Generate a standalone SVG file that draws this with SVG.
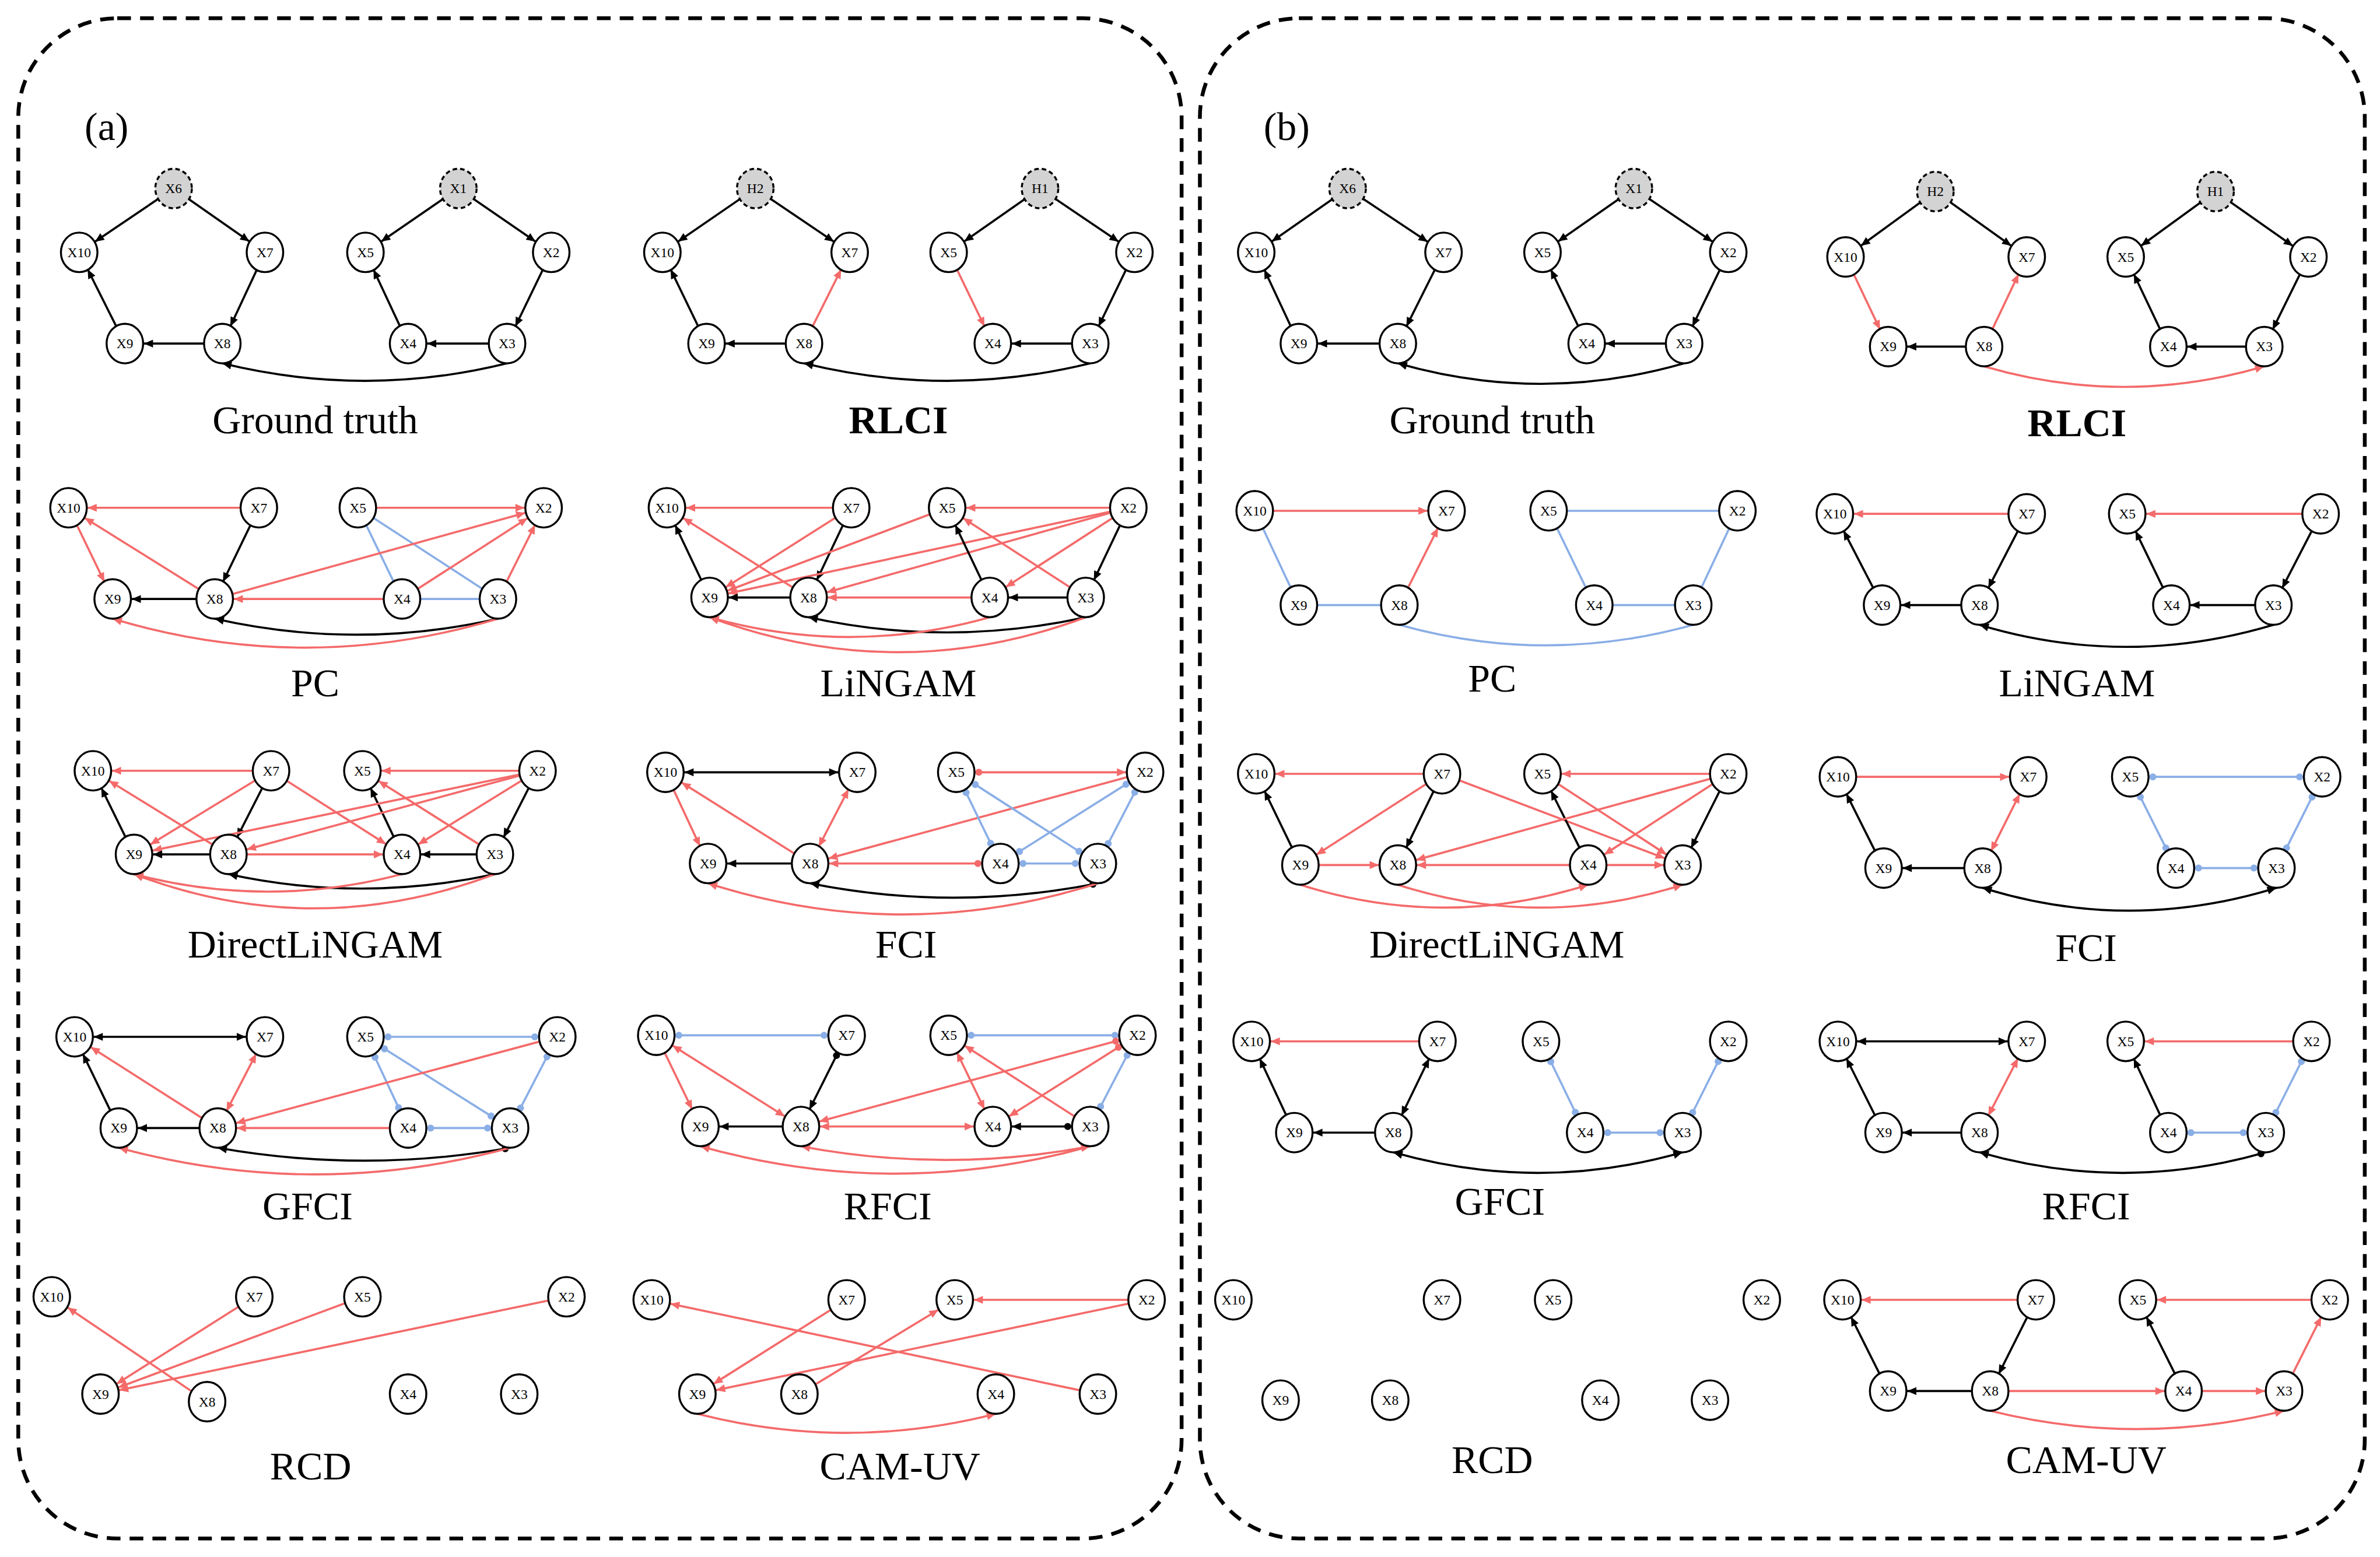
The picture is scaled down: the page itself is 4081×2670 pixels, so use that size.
<svg xmlns="http://www.w3.org/2000/svg" width="4081" height="2670" viewBox="0 0 4081 2670">
<style>
.n ellipse{fill:#fff;stroke:#000;stroke-width:1.3}
.h ellipse{fill:#d3d3d3;stroke:#000;stroke-width:1.3;stroke-dasharray:3 2}
.n text,.h text{font-family:"Liberation Serif",serif;font-size:9px;text-anchor:middle;dominant-baseline:central}
.t{font-family:"Liberation Serif",serif;font-size:26px;text-anchor:middle}
.k{stroke:#000;stroke-width:1.4;fill:none}
.r{stroke:#f46a6a;stroke-width:1.4;fill:none}
.b{stroke:#8aaee6;stroke-width:1.4;fill:none}
.box{fill:none;stroke:#000;stroke-width:2.5;stroke-dasharray:9 6}
</style>
<defs>
<marker id="aK" markerUnits="userSpaceOnUse" refX="12.5" refY="0" orient="auto-start-reverse" overflow="visible"><path d="M0,0 L-6,-2.6 L-6,2.6 Z" fill="#000"/></marker>
<marker id="aR" markerUnits="userSpaceOnUse" refX="12.5" refY="0" orient="auto-start-reverse" overflow="visible"><path d="M0,0 L-6,-2.6 L-6,2.6 Z" fill="#f46a6a"/></marker>
<marker id="zK" markerUnits="userSpaceOnUse" refX="0" refY="0" orient="auto-start-reverse" overflow="visible"><path d="M0,0 L-6,-2.6 L-6,2.6 Z" fill="#000"/></marker>
<marker id="zR" markerUnits="userSpaceOnUse" refX="0" refY="0" orient="auto-start-reverse" overflow="visible"><path d="M0,0 L-6,-2.6 L-6,2.6 Z" fill="#f46a6a"/></marker>
<marker id="cK" markerUnits="userSpaceOnUse" refX="12.5" refY="0" orient="auto" overflow="visible"><circle cx="-2.3" cy="0" r="2.3" fill="#000"/></marker>
<marker id="cR" markerUnits="userSpaceOnUse" refX="12.5" refY="0" orient="auto" overflow="visible"><circle cx="-2.3" cy="0" r="2.3" fill="#f46a6a"/></marker>
<marker id="cB" markerUnits="userSpaceOnUse" refX="12.5" refY="0" orient="auto" overflow="visible"><circle cx="-2.3" cy="0" r="2.3" fill="#8aaee6"/></marker>
<marker id="cBs" markerUnits="userSpaceOnUse" refX="-12.5" refY="0" orient="auto" overflow="visible"><circle cx="2.3" cy="0" r="2.3" fill="#8aaee6"/></marker>
<marker id="cKs" markerUnits="userSpaceOnUse" refX="-12.5" refY="0" orient="auto" overflow="visible"><circle cx="2.3" cy="0" r="2.3" fill="#000"/></marker>
<marker id="cRs" markerUnits="userSpaceOnUse" refX="-12.5" refY="0" orient="auto" overflow="visible"><circle cx="2.3" cy="0" r="2.3" fill="#f46a6a"/></marker>
<marker id="zKs" markerUnits="userSpaceOnUse" refX="-1" refY="0" orient="auto" overflow="visible"><circle cx="2.3" cy="0" r="2.3" fill="#000"/></marker>
</defs>
<g transform="scale(2.611,2.607)">
<rect class="box" x="12" y="12" width="764" height="1000" rx="65"/>
<rect class="box" x="788" y="12" width="765" height="1000" rx="65"/>
<text class="t" x="70" y="92" font-size="28">(a)</text>
<text class="t" x="845" y="92" font-size="28">(b)</text>
<g id="titles">
<text class="t" x="207" y="285">Ground truth</text>
<text class="t" x="590" y="285" font-weight="bold">RLCI</text>
<text class="t" x="207" y="458">PC</text>
<text class="t" x="590" y="458">LiNGAM</text>
<text class="t" x="207" y="630">DirectLiNGAM</text>
<text class="t" x="595" y="630">FCI</text>
<text class="t" x="202" y="802">GFCI</text>
<text class="t" x="583" y="802">RFCI</text>
<text class="t" x="204" y="973">RCD</text>
<text class="t" x="591" y="973">CAM-UV</text>
<text class="t" x="980" y="285">Ground truth</text>
<text class="t" x="1364" y="287" font-weight="bold">RLCI</text>
<text class="t" x="980" y="455">PC</text>
<text class="t" x="1364" y="458">LiNGAM</text>
<text class="t" x="983" y="630">DirectLiNGAM</text>
<text class="t" x="1370" y="632">FCI</text>
<text class="t" x="985" y="799">GFCI</text>
<text class="t" x="1370" y="802">RFCI</text>
<text class="t" x="980" y="969">RCD</text>
<text class="t" x="1370" y="969">CAM-UV</text>
</g>
<g id="connectors">
<!-- a GT -->
<path class="k" d="M114,124 L52,166" marker-end="url(#aK)"/>
<path class="k" d="M114,124 L174,166" marker-end="url(#aK)"/>
<path class="k" d="M174,166 L146,226" marker-end="url(#aK)"/>
<path class="k" d="M146,226 L82,226" marker-end="url(#aK)"/>
<path class="k" d="M82,226 L52,166" marker-end="url(#aK)"/>
<path class="k" d="M301,124 L240,166" marker-end="url(#aK)"/>
<path class="k" d="M301,124 L362,166" marker-end="url(#aK)"/>
<path class="k" d="M362,166 L333,226" marker-end="url(#aK)"/>
<path class="k" d="M333,226 L268,226" marker-end="url(#aK)"/>
<path class="k" d="M268,226 L240,166" marker-end="url(#aK)"/>
<path class="k" d="M333,239 Q240,262 146,239" marker-end="url(#zK)"/>
<!-- a RLCI -->
<path class="k" d="M496,124 L435,166" marker-end="url(#aK)"/>
<path class="k" d="M496,124 L558,166" marker-end="url(#aK)"/>
<path class="r" d="M528,226 L558,166" marker-end="url(#aR)"/>
<path class="k" d="M528,226 L464,226" marker-end="url(#aK)"/>
<path class="k" d="M464,226 L435,166" marker-end="url(#aK)"/>
<path class="k" d="M683,124 L623,166" marker-end="url(#aK)"/>
<path class="k" d="M683,124 L745,166" marker-end="url(#aK)"/>
<path class="k" d="M745,166 L716,226" marker-end="url(#aK)"/>
<path class="k" d="M716,226 L652,226" marker-end="url(#aK)"/>
<path class="r" d="M623,166 L652,226" marker-end="url(#aR)"/>
<path class="k" d="M716,239 Q622,262 528,239" marker-end="url(#zK)"/>
<!-- a PC -->
<path class="r" d="M170,334 L45,334" marker-end="url(#aR)"/>
<path class="r" d="M45,334 L74,394" marker-end="url(#aR)"/>
<path class="r" d="M141,394 L45,334" marker-end="url(#aR)"/>
<path class="k" d="M170,334 L141,394" marker-end="url(#aK)"/>
<path class="k" d="M141,394 L74,394" marker-end="url(#aK)"/>
<path class="r" d="M235,334 L357,334" marker-end="url(#aR)"/>
<path class="b" d="M235,334 L264,394"/>
<path class="b" d="M235,334 L327,394"/>
<path class="r" d="M141,394 L357,334" marker-end="url(#aR)"/>
<path class="r" d="M264,394 L357,334" marker-end="url(#aR)"/>
<path class="r" d="M327,394 L357,334" marker-end="url(#aR)"/>
<path class="r" d="M264,394 L141,394" marker-end="url(#aR)"/>
<path class="b" d="M264,394 L327,394"/>
<path class="k" d="M327,407 Q234,428 141,407" marker-end="url(#zK)"/>
<path class="r" d="M327,407 Q200,445 74,407" marker-end="url(#zR)"/>
<!-- a LiNGAM -->
<path class="r" d="M559,334 L438,334" marker-end="url(#aR)"/>
<path class="k" d="M466,393 L438,334" marker-end="url(#aK)"/>
<path class="r" d="M531,393 L438,334" marker-end="url(#aR)"/>
<path class="k" d="M559,334 L531,393" marker-end="url(#aK)"/>
<path class="r" d="M559,334 L466,393" marker-end="url(#aR)"/>
<path class="r" d="M622,334 L466,393" marker-end="url(#aR)"/>
<path class="r" d="M741,334 L466,393" marker-end="url(#aR)"/>
<path class="r" d="M741,334 L531,393" marker-end="url(#aR)"/>
<path class="r" d="M741,334 L622,334" marker-end="url(#aR)"/>
<path class="k" d="M650,393 L622,334" marker-end="url(#aK)"/>
<path class="r" d="M713,393 L622,334" marker-end="url(#aR)"/>
<path class="r" d="M741,334 L650,393" marker-end="url(#aR)"/>
<path class="k" d="M741,334 L713,393" marker-end="url(#aK)"/>
<path class="k" d="M531,393 L466,393" marker-end="url(#aK)"/>
<path class="r" d="M650,393 L531,393" marker-end="url(#aR)"/>
<path class="k" d="M713,393 L650,393" marker-end="url(#aK)"/>
<path class="k" d="M713,406 Q622,426 531,406" marker-end="url(#zK)"/>
<path class="r" d="M650,406 Q558,432 466,406" marker-end="url(#zR)"/>
<path class="r" d="M713,406 Q590,452 466,406" marker-end="url(#zR)"/>
<!-- a DirectLiNGAM -->
<path class="r" d="M178,507 L61,507" marker-end="url(#aR)"/>
<path class="k" d="M88,562 L61,507" marker-end="url(#aK)"/>
<path class="r" d="M150,562 L61,507" marker-end="url(#aR)"/>
<path class="r" d="M178,507 L88,562" marker-end="url(#aR)"/>
<path class="k" d="M178,507 L150,562" marker-end="url(#aK)"/>
<path class="r" d="M178,507 L264,562" marker-end="url(#aR)"/>
<path class="r" d="M353,507 L238,507" marker-end="url(#aR)"/>
<path class="k" d="M264,562 L238,507" marker-end="url(#aK)"/>
<path class="r" d="M325,562 L238,507" marker-end="url(#aR)"/>
<path class="r" d="M353,507 L88,562" marker-end="url(#aR)"/>
<path class="r" d="M353,507 L150,562" marker-end="url(#aR)"/>
<path class="r" d="M353,507 L264,562" marker-end="url(#aR)"/>
<path class="k" d="M353,507 L325,562" marker-end="url(#aK)"/>
<path class="k" d="M150,562 L88,562" marker-end="url(#aK)"/>
<path class="r" d="M150,562 L264,562" marker-end="url(#aR)"/>
<path class="k" d="M325,562 L264,562" marker-end="url(#aK)"/>
<path class="k" d="M325,575 Q237,594 150,575" marker-end="url(#zK)"/>
<path class="r" d="M264,575 Q176,598 88,575" marker-end="url(#zR)"/>
<path class="r" d="M325,575 Q206,620 88,575" marker-end="url(#zR)"/>
<!-- a FCI -->
<path class="k" d="M437,508 L563,508" marker-start="url(#aK)" marker-end="url(#aK)"/>
<path class="r" d="M532,568 L437,508" marker-end="url(#aR)"/>
<path class="r" d="M437,508 L465,568" marker-end="url(#aR)"/>
<path class="r" d="M532,568 L563,508" marker-start="url(#aR)" marker-end="url(#aR)"/>
<path class="r" d="M628,508 L752,508" marker-start="url(#cRs)" marker-end="url(#aR)"/>
<path class="r" d="M752,508 L532,568" marker-end="url(#aR)"/>
<path class="b" d="M628,508 L657,568" marker-start="url(#cBs)" marker-end="url(#cB)"/>
<path class="b" d="M628,508 L721,568" marker-start="url(#cBs)" marker-end="url(#cB)"/>
<path class="b" d="M752,508 L657,568" marker-start="url(#cBs)" marker-end="url(#cB)"/>
<path class="b" d="M752,508 L721,568" marker-start="url(#cBs)" marker-end="url(#cB)"/>
<path class="b" d="M657,568 L721,568" marker-start="url(#cBs)" marker-end="url(#cB)"/>
<path class="r" d="M657,568 L532,568" marker-start="url(#cRs)" marker-end="url(#aR)"/>
<path class="k" d="M532,568 L465,568" marker-end="url(#aK)"/>
<path class="k" d="M721,581 Q626,600 532,581" marker-start="url(#zKs)" marker-end="url(#zK)"/>
<path class="r" d="M721,581 Q593,622 465,581" marker-end="url(#zR)"/>
<!-- a GFCI -->
<path class="k" d="M49,682 L174,682" marker-start="url(#aK)" marker-end="url(#aK)"/>
<path class="k" d="M78,742 L49,682" marker-end="url(#aK)"/>
<path class="r" d="M143,742 L49,682" marker-end="url(#aR)"/>
<path class="r" d="M143,742 L174,682" marker-start="url(#aR)" marker-end="url(#aR)"/>
<path class="b" d="M240,682 L366,682" marker-start="url(#cBs)" marker-end="url(#cB)"/>
<path class="b" d="M240,682 L268,742" marker-start="url(#cBs)" marker-end="url(#cB)"/>
<path class="b" d="M240,682 L335,742" marker-start="url(#cBs)" marker-end="url(#cB)"/>
<path class="b" d="M366,682 L335,742" marker-start="url(#cBs)" marker-end="url(#cB)"/>
<path class="r" d="M366,682 L143,742" marker-end="url(#aR)"/>
<path class="r" d="M268,742 L143,742" marker-end="url(#aR)"/>
<path class="b" d="M268,742 L335,742" marker-start="url(#cBs)" marker-end="url(#cB)"/>
<path class="k" d="M143,742 L78,742" marker-end="url(#aK)"/>
<path class="k" d="M335,755 Q239,772 143,755" marker-start="url(#zKs)" marker-end="url(#zK)"/>
<path class="r" d="M335,755 Q206,790 78,755" marker-end="url(#zR)"/>
<!-- a RFCI -->
<path class="b" d="M431,681 L556,681" marker-start="url(#cBs)" marker-end="url(#cB)"/>
<path class="r" d="M431,681 L460,741" marker-end="url(#aR)"/>
<path class="r" d="M431,681 L526,741" marker-start="url(#aR)" marker-end="url(#aR)"/>
<path class="k" d="M556,681 L526,741" marker-start="url(#cKs)" marker-end="url(#aK)"/>
<path class="b" d="M623,681 L747,681" marker-start="url(#cBs)" marker-end="url(#cB)"/>
<path class="r" d="M623,681 L652,741" marker-start="url(#aR)" marker-end="url(#aR)"/>
<path class="r" d="M716,741 L623,681" marker-end="url(#aR)"/>
<path class="r" d="M747,681 L526,741" marker-start="url(#cRs)" marker-end="url(#aR)"/>
<path class="r" d="M747,681 L652,741" marker-start="url(#cRs)" marker-end="url(#aR)"/>
<path class="b" d="M747,681 L716,741" marker-start="url(#cBs)" marker-end="url(#cB)"/>
<path class="k" d="M526,741 L460,741" marker-end="url(#aK)"/>
<path class="r" d="M526,741 L652,741" marker-start="url(#aR)" marker-end="url(#aR)"/>
<path class="k" d="M716,741 L652,741" marker-start="url(#cKs)" marker-end="url(#aK)"/>
<path class="r" d="M526,754 Q621,772 716,754" marker-start="url(#zR)" marker-end="url(#zR)"/>
<path class="r" d="M716,754 Q588,790 460,754" marker-end="url(#zR)"/>
<!-- a RCD -->
<path class="r" d="M136,922 L34,853" marker-end="url(#aR)"/>
<path class="r" d="M167,853 L66,917" marker-end="url(#aR)"/>
<path class="r" d="M238,853 L66,917" marker-end="url(#aR)"/>
<path class="r" d="M372,853 L66,917" marker-end="url(#aR)"/>
<!-- a CAM-UV -->
<path class="r" d="M721,917 L428,855" marker-end="url(#aR)"/>
<path class="r" d="M753,855 L627,855" marker-end="url(#aR)"/>
<path class="r" d="M556,855 L458,917" marker-end="url(#aR)"/>
<path class="r" d="M753,855 L458,917" marker-end="url(#aR)"/>
<path class="r" d="M525,917 L627,855" marker-end="url(#aR)"/>
<path class="r" d="M458,930 Q556,955 654,930" marker-end="url(#zR)"/>
<!-- b GT -->
<path class="k" d="M885,124 L825,166" marker-end="url(#aK)"/>
<path class="k" d="M885,124 L948,166" marker-end="url(#aK)"/>
<path class="k" d="M948,166 L918,226" marker-end="url(#aK)"/>
<path class="k" d="M918,226 L853,226" marker-end="url(#aK)"/>
<path class="k" d="M853,226 L825,166" marker-end="url(#aK)"/>
<path class="k" d="M1073,124 L1013,166" marker-end="url(#aK)"/>
<path class="k" d="M1073,124 L1135,166" marker-end="url(#aK)"/>
<path class="k" d="M1135,166 L1106,226" marker-end="url(#aK)"/>
<path class="k" d="M1106,226 L1042,226" marker-end="url(#aK)"/>
<path class="k" d="M1042,226 L1013,166" marker-end="url(#aK)"/>
<path class="k" d="M1106,239 Q1012,266 918,239" marker-end="url(#zK)"/>
<!-- b RLCI -->
<path class="k" d="M1271,126 L1212,169" marker-end="url(#aK)"/>
<path class="k" d="M1271,126 L1331,169" marker-end="url(#aK)"/>
<path class="r" d="M1212,169 L1240,228" marker-end="url(#aR)"/>
<path class="r" d="M1303,228 L1331,169" marker-end="url(#aR)"/>
<path class="k" d="M1303,228 L1240,228" marker-end="url(#aK)"/>
<path class="k" d="M1455,126 L1396,169" marker-end="url(#aK)"/>
<path class="k" d="M1455,126 L1516,169" marker-end="url(#aK)"/>
<path class="k" d="M1516,169 L1487,228" marker-end="url(#aK)"/>
<path class="k" d="M1487,228 L1424,228" marker-end="url(#aK)"/>
<path class="k" d="M1424,228 L1396,169" marker-end="url(#aK)"/>
<path class="r" d="M1303,241 Q1395,268 1487,241" marker-end="url(#zR)"/>
<!-- b PC -->
<path class="r" d="M824,336 L950,336" marker-end="url(#aR)"/>
<path class="b" d="M824,336 L853,398"/>
<path class="r" d="M919,398 L950,336" marker-end="url(#aR)"/>
<path class="b" d="M853,398 L919,398"/>
<path class="b" d="M1017,336 L1141,336"/>
<path class="b" d="M1017,336 L1047,398"/>
<path class="b" d="M1141,336 L1112,398"/>
<path class="b" d="M1047,398 L1112,398"/>
<path class="b" d="M919,411 Q1015,438 1112,411"/>
<!-- b LiNGAM -->
<path class="r" d="M1331,338 L1205,338" marker-end="url(#aR)"/>
<path class="k" d="M1236,398 L1205,338" marker-end="url(#aK)"/>
<path class="k" d="M1331,338 L1300,398" marker-end="url(#aK)"/>
<path class="k" d="M1300,398 L1236,398" marker-end="url(#aK)"/>
<path class="r" d="M1524,338 L1397,338" marker-end="url(#aR)"/>
<path class="k" d="M1426,398 L1397,338" marker-end="url(#aK)"/>
<path class="k" d="M1524,338 L1493,398" marker-end="url(#aK)"/>
<path class="k" d="M1493,398 L1426,398" marker-end="url(#aK)"/>
<path class="k" d="M1493,411 Q1396,440 1300,411" marker-end="url(#zK)"/>
<!-- b DirectLiNGAM -->
<path class="r" d="M947,509 L825,509" marker-end="url(#aR)"/>
<path class="k" d="M854,569 L825,509" marker-end="url(#aK)"/>
<path class="r" d="M947,509 L854,569" marker-end="url(#aR)"/>
<path class="k" d="M947,509 L918,569" marker-end="url(#aK)"/>
<path class="r" d="M947,509 L1105,569" marker-end="url(#aR)"/>
<path class="r" d="M1135,509 L1013,509" marker-end="url(#aR)"/>
<path class="k" d="M1043,569 L1013,509" marker-end="url(#aK)"/>
<path class="r" d="M1013,509 L1105,569" marker-end="url(#aR)"/>
<path class="r" d="M1135,509 L918,569" marker-end="url(#aR)"/>
<path class="r" d="M1135,509 L1043,569" marker-end="url(#aR)"/>
<path class="k" d="M1135,509 L1105,569" marker-end="url(#aK)"/>
<path class="r" d="M854,569 L918,569" marker-end="url(#aR)"/>
<path class="r" d="M1043,569 L918,569" marker-end="url(#aR)"/>
<path class="r" d="M1043,569 L1105,569" marker-end="url(#aR)"/>
<path class="r" d="M854,582 Q948,612 1043,582" marker-end="url(#zR)"/>
<path class="r" d="M918,582 Q1011,612 1105,582" marker-end="url(#zR)"/>
<!-- b FCI -->
<path class="r" d="M1207,511 L1332,511" marker-end="url(#aR)"/>
<path class="k" d="M1237,571 L1207,511" marker-end="url(#aK)"/>
<path class="r" d="M1302,571 L1332,511" marker-start="url(#aR)" marker-end="url(#aR)"/>
<path class="k" d="M1302,571 L1237,571" marker-end="url(#aK)"/>
<path class="b" d="M1399,511 L1525,511" marker-start="url(#cBs)" marker-end="url(#cB)"/>
<path class="b" d="M1399,511 L1429,571" marker-start="url(#cBs)" marker-end="url(#cB)"/>
<path class="b" d="M1525,511 L1495,571" marker-start="url(#cBs)" marker-end="url(#cB)"/>
<path class="b" d="M1429,571 L1495,571" marker-start="url(#cBs)" marker-end="url(#cB)"/>
<path class="k" d="M1302,584 Q1398,614 1495,584" marker-start="url(#zK)" marker-end="url(#zK)"/>
<!-- b GFCI -->
<path class="r" d="M944,685 L822,685" marker-end="url(#aR)"/>
<path class="k" d="M850,745 L822,685" marker-end="url(#aK)"/>
<path class="k" d="M915,745 L944,685" marker-start="url(#aK)" marker-end="url(#aK)"/>
<path class="k" d="M915,745 L850,745" marker-end="url(#aK)"/>
<path class="b" d="M1012,685 L1041,745" marker-start="url(#cBs)" marker-end="url(#cB)"/>
<path class="b" d="M1135,685 L1105,745" marker-start="url(#cBs)" marker-end="url(#cB)"/>
<path class="b" d="M1041,745 L1105,745" marker-start="url(#cBs)" marker-end="url(#cB)"/>
<path class="k" d="M915,758 Q1010,785 1105,758" marker-start="url(#zK)" marker-end="url(#zK)"/>
<!-- b RFCI -->
<path class="k" d="M1207,685 L1331,685" marker-start="url(#aK)" marker-end="url(#aK)"/>
<path class="k" d="M1237,745 L1207,685" marker-end="url(#aK)"/>
<path class="r" d="M1300,745 L1331,685" marker-start="url(#aR)" marker-end="url(#aR)"/>
<path class="k" d="M1300,745 L1237,745" marker-end="url(#aK)"/>
<path class="r" d="M1518,685 L1396,685" marker-end="url(#aR)"/>
<path class="k" d="M1424,745 L1396,685" marker-end="url(#aK)"/>
<path class="b" d="M1518,685 L1488,745" marker-start="url(#cBs)" marker-end="url(#cB)"/>
<path class="b" d="M1424,745 L1488,745" marker-start="url(#cBs)" marker-end="url(#cB)"/>
<path class="k" d="M1488,758 Q1394,785 1300,758" marker-start="url(#zKs)" marker-end="url(#zK)"/>
<!-- b CAM-UV -->
<path class="r" d="M1337,855 L1210,855" marker-end="url(#aR)"/>
<path class="k" d="M1240,915 L1210,855" marker-end="url(#aK)"/>
<path class="k" d="M1337,855 L1307,915" marker-end="url(#aK)"/>
<path class="k" d="M1307,915 L1240,915" marker-end="url(#aK)"/>
<path class="r" d="M1530,855 L1404,855" marker-end="url(#aR)"/>
<path class="k" d="M1434,915 L1404,855" marker-end="url(#aK)"/>
<path class="r" d="M1500,915 L1530,855" marker-end="url(#aR)"/>
<path class="r" d="M1307,915 L1434,915" marker-end="url(#aR)"/>
<path class="r" d="M1434,915 L1500,915" marker-end="url(#aR)"/>
<path class="r" d="M1307,928 Q1403,952 1500,928" marker-end="url(#zR)"/>
</g>
<!-- nodes (a) GT -->
<g id="aGT-X6" class="h"><ellipse cx="114" cy="124" rx="12" ry="13"/><text x="114" y="124">X6</text></g>
<g id="aGT-X10" class="n"><ellipse cx="52" cy="166" rx="12" ry="13"/><text x="52" y="166">X10</text></g>
<g id="aGT-X7" class="n"><ellipse cx="174" cy="166" rx="12" ry="13"/><text x="174" y="166">X7</text></g>
<g id="aGT-X9" class="n"><ellipse cx="82" cy="226" rx="12" ry="13"/><text x="82" y="226">X9</text></g>
<g id="aGT-X8" class="n"><ellipse cx="146" cy="226" rx="12" ry="13"/><text x="146" y="226">X8</text></g>
<g id="aGT-X1" class="h"><ellipse cx="301" cy="124" rx="12" ry="13"/><text x="301" y="124">X1</text></g>
<g id="aGT-X5" class="n"><ellipse cx="240" cy="166" rx="12" ry="13"/><text x="240" y="166">X5</text></g>
<g id="aGT-X2" class="n"><ellipse cx="362" cy="166" rx="12" ry="13"/><text x="362" y="166">X2</text></g>
<g id="aGT-X4" class="n"><ellipse cx="268" cy="226" rx="12" ry="13"/><text x="268" y="226">X4</text></g>
<g id="aGT-X3" class="n"><ellipse cx="333" cy="226" rx="12" ry="13"/><text x="333" y="226">X3</text></g>
<!-- a RLCI -->
<g id="aRL-H2" class="h"><ellipse cx="496" cy="124" rx="12" ry="13"/><text x="496" y="124">H2</text></g>
<g id="aRL-X10" class="n"><ellipse cx="435" cy="166" rx="12" ry="13"/><text x="435" y="166">X10</text></g>
<g id="aRL-X7" class="n"><ellipse cx="558" cy="166" rx="12" ry="13"/><text x="558" y="166">X7</text></g>
<g id="aRL-X9" class="n"><ellipse cx="464" cy="226" rx="12" ry="13"/><text x="464" y="226">X9</text></g>
<g id="aRL-X8" class="n"><ellipse cx="528" cy="226" rx="12" ry="13"/><text x="528" y="226">X8</text></g>
<g id="aRL-H1" class="h"><ellipse cx="683" cy="124" rx="12" ry="13"/><text x="683" y="124">H1</text></g>
<g id="aRL-X5" class="n"><ellipse cx="623" cy="166" rx="12" ry="13"/><text x="623" y="166">X5</text></g>
<g id="aRL-X2" class="n"><ellipse cx="745" cy="166" rx="12" ry="13"/><text x="745" y="166">X2</text></g>
<g id="aRL-X4" class="n"><ellipse cx="652" cy="226" rx="12" ry="13"/><text x="652" y="226">X4</text></g>
<g id="aRL-X3" class="n"><ellipse cx="716" cy="226" rx="12" ry="13"/><text x="716" y="226">X3</text></g>
<!-- a PC -->
<g id="aPC-X10" class="n"><ellipse cx="45" cy="334" rx="12" ry="13"/><text x="45" y="334">X10</text></g>
<g id="aPC-X7" class="n"><ellipse cx="170" cy="334" rx="12" ry="13"/><text x="170" y="334">X7</text></g>
<g id="aPC-X5" class="n"><ellipse cx="235" cy="334" rx="12" ry="13"/><text x="235" y="334">X5</text></g>
<g id="aPC-X2" class="n"><ellipse cx="357" cy="334" rx="12" ry="13"/><text x="357" y="334">X2</text></g>
<g id="aPC-X9" class="n"><ellipse cx="74" cy="394" rx="12" ry="13"/><text x="74" y="394">X9</text></g>
<g id="aPC-X8" class="n"><ellipse cx="141" cy="394" rx="12" ry="13"/><text x="141" y="394">X8</text></g>
<g id="aPC-X4" class="n"><ellipse cx="264" cy="394" rx="12" ry="13"/><text x="264" y="394">X4</text></g>
<g id="aPC-X3" class="n"><ellipse cx="327" cy="394" rx="12" ry="13"/><text x="327" y="394">X3</text></g>
<!-- a LiNGAM -->
<g id="aLi-X10" class="n"><ellipse cx="438" cy="334" rx="12" ry="13"/><text x="438" y="334">X10</text></g>
<g id="aLi-X7" class="n"><ellipse cx="559" cy="334" rx="12" ry="13"/><text x="559" y="334">X7</text></g>
<g id="aLi-X5" class="n"><ellipse cx="622" cy="334" rx="12" ry="13"/><text x="622" y="334">X5</text></g>
<g id="aLi-X2" class="n"><ellipse cx="741" cy="334" rx="12" ry="13"/><text x="741" y="334">X2</text></g>
<g id="aLi-X9" class="n"><ellipse cx="466" cy="393" rx="12" ry="13"/><text x="466" y="393">X9</text></g>
<g id="aLi-X8" class="n"><ellipse cx="531" cy="393" rx="12" ry="13"/><text x="531" y="393">X8</text></g>
<g id="aLi-X4" class="n"><ellipse cx="650" cy="393" rx="12" ry="13"/><text x="650" y="393">X4</text></g>
<g id="aLi-X3" class="n"><ellipse cx="713" cy="393" rx="12" ry="13"/><text x="713" y="393">X3</text></g>
<!-- a DirectLiNGAM -->
<g id="aDL-X10" class="n"><ellipse cx="61" cy="507" rx="12" ry="13"/><text x="61" y="507">X10</text></g>
<g id="aDL-X7" class="n"><ellipse cx="178" cy="507" rx="12" ry="13"/><text x="178" y="507">X7</text></g>
<g id="aDL-X5" class="n"><ellipse cx="238" cy="507" rx="12" ry="13"/><text x="238" y="507">X5</text></g>
<g id="aDL-X2" class="n"><ellipse cx="353" cy="507" rx="12" ry="13"/><text x="353" y="507">X2</text></g>
<g id="aDL-X9" class="n"><ellipse cx="88" cy="562" rx="12" ry="13"/><text x="88" y="562">X9</text></g>
<g id="aDL-X8" class="n"><ellipse cx="150" cy="562" rx="12" ry="13"/><text x="150" y="562">X8</text></g>
<g id="aDL-X4" class="n"><ellipse cx="264" cy="562" rx="12" ry="13"/><text x="264" y="562">X4</text></g>
<g id="aDL-X3" class="n"><ellipse cx="325" cy="562" rx="12" ry="13"/><text x="325" y="562">X3</text></g>
<!-- a FCI -->
<g id="aFC-X10" class="n"><ellipse cx="437" cy="508" rx="12" ry="13"/><text x="437" y="508">X10</text></g>
<g id="aFC-X7" class="n"><ellipse cx="563" cy="508" rx="12" ry="13"/><text x="563" y="508">X7</text></g>
<g id="aFC-X5" class="n"><ellipse cx="628" cy="508" rx="12" ry="13"/><text x="628" y="508">X5</text></g>
<g id="aFC-X2" class="n"><ellipse cx="752" cy="508" rx="12" ry="13"/><text x="752" y="508">X2</text></g>
<g id="aFC-X9" class="n"><ellipse cx="465" cy="568" rx="12" ry="13"/><text x="465" y="568">X9</text></g>
<g id="aFC-X8" class="n"><ellipse cx="532" cy="568" rx="12" ry="13"/><text x="532" y="568">X8</text></g>
<g id="aFC-X4" class="n"><ellipse cx="657" cy="568" rx="12" ry="13"/><text x="657" y="568">X4</text></g>
<g id="aFC-X3" class="n"><ellipse cx="721" cy="568" rx="12" ry="13"/><text x="721" y="568">X3</text></g>
<!-- a GFCI -->
<g id="aGF-X10" class="n"><ellipse cx="49" cy="682" rx="12" ry="13"/><text x="49" y="682">X10</text></g>
<g id="aGF-X7" class="n"><ellipse cx="174" cy="682" rx="12" ry="13"/><text x="174" y="682">X7</text></g>
<g id="aGF-X5" class="n"><ellipse cx="240" cy="682" rx="12" ry="13"/><text x="240" y="682">X5</text></g>
<g id="aGF-X2" class="n"><ellipse cx="366" cy="682" rx="12" ry="13"/><text x="366" y="682">X2</text></g>
<g id="aGF-X9" class="n"><ellipse cx="78" cy="742" rx="12" ry="13"/><text x="78" y="742">X9</text></g>
<g id="aGF-X8" class="n"><ellipse cx="143" cy="742" rx="12" ry="13"/><text x="143" y="742">X8</text></g>
<g id="aGF-X4" class="n"><ellipse cx="268" cy="742" rx="12" ry="13"/><text x="268" y="742">X4</text></g>
<g id="aGF-X3" class="n"><ellipse cx="335" cy="742" rx="12" ry="13"/><text x="335" y="742">X3</text></g>
<!-- a RFCI -->
<g id="aRF-X10" class="n"><ellipse cx="431" cy="681" rx="12" ry="13"/><text x="431" y="681">X10</text></g>
<g id="aRF-X7" class="n"><ellipse cx="556" cy="681" rx="12" ry="13"/><text x="556" y="681">X7</text></g>
<g id="aRF-X5" class="n"><ellipse cx="623" cy="681" rx="12" ry="13"/><text x="623" y="681">X5</text></g>
<g id="aRF-X2" class="n"><ellipse cx="747" cy="681" rx="12" ry="13"/><text x="747" y="681">X2</text></g>
<g id="aRF-X9" class="n"><ellipse cx="460" cy="741" rx="12" ry="13"/><text x="460" y="741">X9</text></g>
<g id="aRF-X8" class="n"><ellipse cx="526" cy="741" rx="12" ry="13"/><text x="526" y="741">X8</text></g>
<g id="aRF-X4" class="n"><ellipse cx="652" cy="741" rx="12" ry="13"/><text x="652" y="741">X4</text></g>
<g id="aRF-X3" class="n"><ellipse cx="716" cy="741" rx="12" ry="13"/><text x="716" y="741">X3</text></g>
<!-- a RCD -->
<g id="aRC-X10" class="n"><ellipse cx="34" cy="853" rx="12" ry="13"/><text x="34" y="853">X10</text></g>
<g id="aRC-X7" class="n"><ellipse cx="167" cy="853" rx="12" ry="13"/><text x="167" y="853">X7</text></g>
<g id="aRC-X5" class="n"><ellipse cx="238" cy="853" rx="12" ry="13"/><text x="238" y="853">X5</text></g>
<g id="aRC-X2" class="n"><ellipse cx="372" cy="853" rx="12" ry="13"/><text x="372" y="853">X2</text></g>
<g id="aRC-X9" class="n"><ellipse cx="66" cy="917" rx="12" ry="13"/><text x="66" y="917">X9</text></g>
<g id="aRC-X8" class="n"><ellipse cx="136" cy="922" rx="12" ry="13"/><text x="136" y="922">X8</text></g>
<g id="aRC-X4" class="n"><ellipse cx="268" cy="917" rx="12" ry="13"/><text x="268" y="917">X4</text></g>
<g id="aRC-X3" class="n"><ellipse cx="341" cy="917" rx="12" ry="13"/><text x="341" y="917">X3</text></g>
<!-- a CAM-UV -->
<g id="aCU-X10" class="n"><ellipse cx="428" cy="855" rx="12" ry="13"/><text x="428" y="855">X10</text></g>
<g id="aCU-X7" class="n"><ellipse cx="556" cy="855" rx="12" ry="13"/><text x="556" y="855">X7</text></g>
<g id="aCU-X5" class="n"><ellipse cx="627" cy="855" rx="12" ry="13"/><text x="627" y="855">X5</text></g>
<g id="aCU-X2" class="n"><ellipse cx="753" cy="855" rx="12" ry="13"/><text x="753" y="855">X2</text></g>
<g id="aCU-X9" class="n"><ellipse cx="458" cy="917" rx="12" ry="13"/><text x="458" y="917">X9</text></g>
<g id="aCU-X8" class="n"><ellipse cx="525" cy="917" rx="12" ry="13"/><text x="525" y="917">X8</text></g>
<g id="aCU-X4" class="n"><ellipse cx="654" cy="917" rx="12" ry="13"/><text x="654" y="917">X4</text></g>
<g id="aCU-X3" class="n"><ellipse cx="721" cy="917" rx="12" ry="13"/><text x="721" y="917">X3</text></g>
<!-- b GT -->
<g id="bGT-X6" class="h"><ellipse cx="885" cy="124" rx="12" ry="13"/><text x="885" y="124">X6</text></g>
<g id="bGT-X10" class="n"><ellipse cx="825" cy="166" rx="12" ry="13"/><text x="825" y="166">X10</text></g>
<g id="bGT-X7" class="n"><ellipse cx="948" cy="166" rx="12" ry="13"/><text x="948" y="166">X7</text></g>
<g id="bGT-X9" class="n"><ellipse cx="853" cy="226" rx="12" ry="13"/><text x="853" y="226">X9</text></g>
<g id="bGT-X8" class="n"><ellipse cx="918" cy="226" rx="12" ry="13"/><text x="918" y="226">X8</text></g>
<g id="bGT-X1" class="h"><ellipse cx="1073" cy="124" rx="12" ry="13"/><text x="1073" y="124">X1</text></g>
<g id="bGT-X5" class="n"><ellipse cx="1013" cy="166" rx="12" ry="13"/><text x="1013" y="166">X5</text></g>
<g id="bGT-X2" class="n"><ellipse cx="1135" cy="166" rx="12" ry="13"/><text x="1135" y="166">X2</text></g>
<g id="bGT-X4" class="n"><ellipse cx="1042" cy="226" rx="12" ry="13"/><text x="1042" y="226">X4</text></g>
<g id="bGT-X3" class="n"><ellipse cx="1106" cy="226" rx="12" ry="13"/><text x="1106" y="226">X3</text></g>
<!-- b RLCI -->
<g id="bRL-H2" class="h"><ellipse cx="1271" cy="126" rx="12" ry="13"/><text x="1271" y="126">H2</text></g>
<g id="bRL-X10" class="n"><ellipse cx="1212" cy="169" rx="12" ry="13"/><text x="1212" y="169">X10</text></g>
<g id="bRL-X7" class="n"><ellipse cx="1331" cy="169" rx="12" ry="13"/><text x="1331" y="169">X7</text></g>
<g id="bRL-X9" class="n"><ellipse cx="1240" cy="228" rx="12" ry="13"/><text x="1240" y="228">X9</text></g>
<g id="bRL-X8" class="n"><ellipse cx="1303" cy="228" rx="12" ry="13"/><text x="1303" y="228">X8</text></g>
<g id="bRL-H1" class="h"><ellipse cx="1455" cy="126" rx="12" ry="13"/><text x="1455" y="126">H1</text></g>
<g id="bRL-X5" class="n"><ellipse cx="1396" cy="169" rx="12" ry="13"/><text x="1396" y="169">X5</text></g>
<g id="bRL-X2" class="n"><ellipse cx="1516" cy="169" rx="12" ry="13"/><text x="1516" y="169">X2</text></g>
<g id="bRL-X4" class="n"><ellipse cx="1424" cy="228" rx="12" ry="13"/><text x="1424" y="228">X4</text></g>
<g id="bRL-X3" class="n"><ellipse cx="1487" cy="228" rx="12" ry="13"/><text x="1487" y="228">X3</text></g>
<!-- b PC -->
<g id="bPC-X10" class="n"><ellipse cx="824" cy="336" rx="12" ry="13"/><text x="824" y="336">X10</text></g>
<g id="bPC-X7" class="n"><ellipse cx="950" cy="336" rx="12" ry="13"/><text x="950" y="336">X7</text></g>
<g id="bPC-X5" class="n"><ellipse cx="1017" cy="336" rx="12" ry="13"/><text x="1017" y="336">X5</text></g>
<g id="bPC-X2" class="n"><ellipse cx="1141" cy="336" rx="12" ry="13"/><text x="1141" y="336">X2</text></g>
<g id="bPC-X9" class="n"><ellipse cx="853" cy="398" rx="12" ry="13"/><text x="853" y="398">X9</text></g>
<g id="bPC-X8" class="n"><ellipse cx="919" cy="398" rx="12" ry="13"/><text x="919" y="398">X8</text></g>
<g id="bPC-X4" class="n"><ellipse cx="1047" cy="398" rx="12" ry="13"/><text x="1047" y="398">X4</text></g>
<g id="bPC-X3" class="n"><ellipse cx="1112" cy="398" rx="12" ry="13"/><text x="1112" y="398">X3</text></g>
<!-- b LiNGAM -->
<g id="bLi-X10" class="n"><ellipse cx="1205" cy="338" rx="12" ry="13"/><text x="1205" y="338">X10</text></g>
<g id="bLi-X7" class="n"><ellipse cx="1331" cy="338" rx="12" ry="13"/><text x="1331" y="338">X7</text></g>
<g id="bLi-X5" class="n"><ellipse cx="1397" cy="338" rx="12" ry="13"/><text x="1397" y="338">X5</text></g>
<g id="bLi-X2" class="n"><ellipse cx="1524" cy="338" rx="12" ry="13"/><text x="1524" y="338">X2</text></g>
<g id="bLi-X9" class="n"><ellipse cx="1236" cy="398" rx="12" ry="13"/><text x="1236" y="398">X9</text></g>
<g id="bLi-X8" class="n"><ellipse cx="1300" cy="398" rx="12" ry="13"/><text x="1300" y="398">X8</text></g>
<g id="bLi-X4" class="n"><ellipse cx="1426" cy="398" rx="12" ry="13"/><text x="1426" y="398">X4</text></g>
<g id="bLi-X3" class="n"><ellipse cx="1493" cy="398" rx="12" ry="13"/><text x="1493" y="398">X3</text></g>
<!-- b DirectLiNGAM -->
<g id="bDL-X10" class="n"><ellipse cx="825" cy="509" rx="12" ry="13"/><text x="825" y="509">X10</text></g>
<g id="bDL-X7" class="n"><ellipse cx="947" cy="509" rx="12" ry="13"/><text x="947" y="509">X7</text></g>
<g id="bDL-X5" class="n"><ellipse cx="1013" cy="509" rx="12" ry="13"/><text x="1013" y="509">X5</text></g>
<g id="bDL-X2" class="n"><ellipse cx="1135" cy="509" rx="12" ry="13"/><text x="1135" y="509">X2</text></g>
<g id="bDL-X9" class="n"><ellipse cx="854" cy="569" rx="12" ry="13"/><text x="854" y="569">X9</text></g>
<g id="bDL-X8" class="n"><ellipse cx="918" cy="569" rx="12" ry="13"/><text x="918" y="569">X8</text></g>
<g id="bDL-X4" class="n"><ellipse cx="1043" cy="569" rx="12" ry="13"/><text x="1043" y="569">X4</text></g>
<g id="bDL-X3" class="n"><ellipse cx="1105" cy="569" rx="12" ry="13"/><text x="1105" y="569">X3</text></g>
<!-- b FCI -->
<g id="bFC-X10" class="n"><ellipse cx="1207" cy="511" rx="12" ry="13"/><text x="1207" y="511">X10</text></g>
<g id="bFC-X7" class="n"><ellipse cx="1332" cy="511" rx="12" ry="13"/><text x="1332" y="511">X7</text></g>
<g id="bFC-X5" class="n"><ellipse cx="1399" cy="511" rx="12" ry="13"/><text x="1399" y="511">X5</text></g>
<g id="bFC-X2" class="n"><ellipse cx="1525" cy="511" rx="12" ry="13"/><text x="1525" y="511">X2</text></g>
<g id="bFC-X9" class="n"><ellipse cx="1237" cy="571" rx="12" ry="13"/><text x="1237" y="571">X9</text></g>
<g id="bFC-X8" class="n"><ellipse cx="1302" cy="571" rx="12" ry="13"/><text x="1302" y="571">X8</text></g>
<g id="bFC-X4" class="n"><ellipse cx="1429" cy="571" rx="12" ry="13"/><text x="1429" y="571">X4</text></g>
<g id="bFC-X3" class="n"><ellipse cx="1495" cy="571" rx="12" ry="13"/><text x="1495" y="571">X3</text></g>
<!-- b GFCI -->
<g id="bGF-X10" class="n"><ellipse cx="822" cy="685" rx="12" ry="13"/><text x="822" y="685">X10</text></g>
<g id="bGF-X7" class="n"><ellipse cx="944" cy="685" rx="12" ry="13"/><text x="944" y="685">X7</text></g>
<g id="bGF-X5" class="n"><ellipse cx="1012" cy="685" rx="12" ry="13"/><text x="1012" y="685">X5</text></g>
<g id="bGF-X2" class="n"><ellipse cx="1135" cy="685" rx="12" ry="13"/><text x="1135" y="685">X2</text></g>
<g id="bGF-X9" class="n"><ellipse cx="850" cy="745" rx="12" ry="13"/><text x="850" y="745">X9</text></g>
<g id="bGF-X8" class="n"><ellipse cx="915" cy="745" rx="12" ry="13"/><text x="915" y="745">X8</text></g>
<g id="bGF-X4" class="n"><ellipse cx="1041" cy="745" rx="12" ry="13"/><text x="1041" y="745">X4</text></g>
<g id="bGF-X3" class="n"><ellipse cx="1105" cy="745" rx="12" ry="13"/><text x="1105" y="745">X3</text></g>
<!-- b RFCI -->
<g id="bRF-X10" class="n"><ellipse cx="1207" cy="685" rx="12" ry="13"/><text x="1207" y="685">X10</text></g>
<g id="bRF-X7" class="n"><ellipse cx="1331" cy="685" rx="12" ry="13"/><text x="1331" y="685">X7</text></g>
<g id="bRF-X5" class="n"><ellipse cx="1396" cy="685" rx="12" ry="13"/><text x="1396" y="685">X5</text></g>
<g id="bRF-X2" class="n"><ellipse cx="1518" cy="685" rx="12" ry="13"/><text x="1518" y="685">X2</text></g>
<g id="bRF-X9" class="n"><ellipse cx="1237" cy="745" rx="12" ry="13"/><text x="1237" y="745">X9</text></g>
<g id="bRF-X8" class="n"><ellipse cx="1300" cy="745" rx="12" ry="13"/><text x="1300" y="745">X8</text></g>
<g id="bRF-X4" class="n"><ellipse cx="1424" cy="745" rx="12" ry="13"/><text x="1424" y="745">X4</text></g>
<g id="bRF-X3" class="n"><ellipse cx="1488" cy="745" rx="12" ry="13"/><text x="1488" y="745">X3</text></g>
<!-- b RCD -->
<g id="bRC-X10" class="n"><ellipse cx="810" cy="855" rx="12" ry="13"/><text x="810" y="855">X10</text></g>
<g id="bRC-X7" class="n"><ellipse cx="947" cy="855" rx="12" ry="13"/><text x="947" y="855">X7</text></g>
<g id="bRC-X5" class="n"><ellipse cx="1020" cy="855" rx="12" ry="13"/><text x="1020" y="855">X5</text></g>
<g id="bRC-X2" class="n"><ellipse cx="1157" cy="855" rx="12" ry="13"/><text x="1157" y="855">X2</text></g>
<g id="bRC-X9" class="n"><ellipse cx="841" cy="921" rx="12" ry="13"/><text x="841" y="921">X9</text></g>
<g id="bRC-X8" class="n"><ellipse cx="913" cy="921" rx="12" ry="13"/><text x="913" y="921">X8</text></g>
<g id="bRC-X4" class="n"><ellipse cx="1051" cy="921" rx="12" ry="13"/><text x="1051" y="921">X4</text></g>
<g id="bRC-X3" class="n"><ellipse cx="1123" cy="921" rx="12" ry="13"/><text x="1123" y="921">X3</text></g>
<!-- b CAM-UV -->
<g id="bCU-X10" class="n"><ellipse cx="1210" cy="855" rx="12" ry="13"/><text x="1210" y="855">X10</text></g>
<g id="bCU-X7" class="n"><ellipse cx="1337" cy="855" rx="12" ry="13"/><text x="1337" y="855">X7</text></g>
<g id="bCU-X5" class="n"><ellipse cx="1404" cy="855" rx="12" ry="13"/><text x="1404" y="855">X5</text></g>
<g id="bCU-X2" class="n"><ellipse cx="1530" cy="855" rx="12" ry="13"/><text x="1530" y="855">X2</text></g>
<g id="bCU-X9" class="n"><ellipse cx="1240" cy="915" rx="12" ry="13"/><text x="1240" y="915">X9</text></g>
<g id="bCU-X8" class="n"><ellipse cx="1307" cy="915" rx="12" ry="13"/><text x="1307" y="915">X8</text></g>
<g id="bCU-X4" class="n"><ellipse cx="1434" cy="915" rx="12" ry="13"/><text x="1434" y="915">X4</text></g>
<g id="bCU-X3" class="n"><ellipse cx="1500" cy="915" rx="12" ry="13"/><text x="1500" y="915">X3</text></g>
</g>
</svg>
